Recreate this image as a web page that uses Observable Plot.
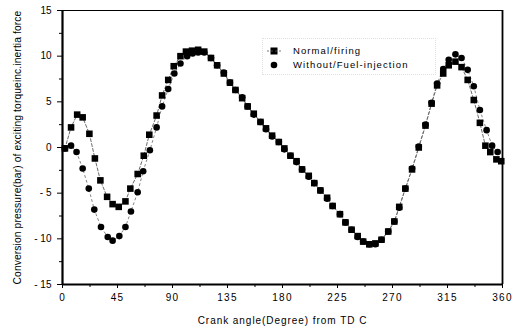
<!DOCTYPE html>
<html>
<head>
<meta charset="utf-8">
<script src="https://cdn.jsdelivr.net/npm/d3@7"></script>
<script src="https://cdn.jsdelivr.net/npm/@observablehq/plot@0.6"></script>
<style>
  html, body { margin: 0; padding: 0; background: #fff; }
  #wrap { position: relative; width: 518px; height: 327px; font-family: "Liberation Sans", Arial, sans-serif; }
  #wrap svg text { fill: #000; }
  .xticks text { letter-spacing: 1.2px; font-size: 10px; }
  .yticks text { font-size: 10px; }
  #legend { position: absolute; left: 262px; top: 38px; width: 172px; height: 35px;
            border: 1px dotted #e0e0e0; font-size: 9.5px; letter-spacing: 1.1px; color: #000; }
  #legend .row { position: absolute; left: 0; height: 12px; line-height: 12px; white-space: nowrap; }
  #legend svg { position: absolute; left: 4px; top: 0; }
  #legend span { position: absolute; left: 30px; top: 0; }
</style>
</head>
<body>
<div id="wrap"></div>
<script>
// ---- data ----
const normalAngle = [2, 7, 12, 16.5, 22, 26.5, 31, 36.5, 41, 46, 51.5, 55.5, 61.5, 66.5, 71, 77, 81.5, 86.5, 91, 96.5, 101, 106, 111, 116, 121.5, 126.5, 132, 137, 141.5, 147, 151.5, 156.5, 162, 166.5, 171.5, 177, 181.5, 186.5, 191.5, 196, 201.5, 206, 211, 216.5, 221, 227, 231.5, 236.5, 241.5, 246, 251, 256, 261, 266.5, 271.5, 275.5, 280.5, 286, 291.5, 297, 302, 306.5, 311.5, 316, 321.5, 326.5, 331.5, 336.5, 341.5, 346, 350, 355, 359];
const normalValue = [-0.1, 2.2, 3.6, 3.3, 1.5, -1.2, -3.6, -5.4, -6.2, -6.5, -5.9, -4.5, -2.9, -0.9, 1.4, 3.5, 5.7, 7.4, 8.9, 10.0, 10.5, 10.6, 10.7, 10.5, 9.8, 9.0, 8.1, 7.1, 6.3, 5.4, 4.5, 3.7, 2.8, 2.1, 1.3, 0.6, -0.1, -0.9, -1.5, -2.4, -3.1, -3.9, -4.7, -5.5, -6.4, -7.3, -8.2, -9.0, -9.7, -10.3, -10.6, -10.5, -10.1, -9.2, -8.1, -6.5, -4.5, -2.4, 0.0, 2.4, 4.8, 6.8, 8.1, 9.0, 9.4, 8.8, 7.4, 5.2, 2.7, 0.2, -0.5, -1.3, -1.5];

const noFuelAngle = [2, 7, 11.5, 16.5, 21.5, 26, 31.5, 37, 41, 46.5, 51.5, 56, 61.5, 66, 71.5, 77, 81.5, 86.5, 91.5, 96.5, 102, 106.5, 111, 116, 121.5, 126.5, 132, 137, 141.5, 147, 151.5, 156.5, 162, 166.5, 171.5, 177, 181.5, 186.5, 191.5, 196, 201.5, 206, 211, 216.5, 221, 227, 231.5, 236.5, 241.5, 246, 251, 256, 261, 266.5, 271.5, 275.5, 280.5, 286, 291.5, 297, 302, 306.5, 311.5, 316, 321.5, 326.5, 331.5, 336.5, 341.5, 347, 351.5, 356];
const noFuelValue = [-0.1, 0.2, -0.5, -2.3, -4.5, -6.8, -8.7, -9.8, -10.2, -9.7, -8.7, -7.0, -4.9, -2.6, -0.3, 2.2, 4.5, 6.4, 8.1, 9.2, 10.0, 10.3, 10.4, 10.4, 9.8, 9.0, 8.2, 7.1, 6.3, 5.5, 4.5, 3.6, 2.8, 2.0, 1.2, 0.6, -0.2, -0.9, -1.6, -2.4, -3.2, -3.9, -4.7, -5.6, -6.4, -7.3, -8.2, -9.0, -9.8, -10.3, -10.6, -10.6, -10.1, -9.2, -8.1, -6.6, -4.5, -2.3, 0.1, 2.5, 4.9, 7.0, 8.6, 9.6, 10.2, 9.8, 8.5, 6.7, 4.1, 1.9, 0.2, -0.5];

const seriesNames = ["Normal/firing", "Without/Fuel-injection"];
const xDomain = [0, 360];
const yDomain = [-15, 15];
const xTicks = [0, 45, 90, 135, 180, 225, 270, 315, 360];
const xMinorTicks = [22.5, 67.5, 112.5, 157.5, 202.5, 247.5, 292.5, 337.5];
const yTicks = [-15, -10, -5, 0, 5, 10, 15];
const yMinorTicks = [-12.5, -7.5, -2.5, 2.5, 7.5, 12.5];
const xLabel = "Crank angle(Degree) from TD C";
const yLabel = "Conversion pressure(bar) of exciting torqueinc.inertia force";

// ---- build ----
const normal = normalAngle.map((a, i) => ({angle: a, value: normalValue[i]}));
const noFuel = noFuelAngle.map((a, i) => ({angle: a, value: noFuelValue[i]}));

const chart = Plot.plot({
  width: 518,
  height: 327,
  marginLeft: 62,
  marginRight: 16,
  marginTop: 10,
  marginBottom: 43,
  style: {fontFamily: "'Liberation Sans', Arial, sans-serif", fontSize: "10px", background: "#fff", color: "#000"},
  x: {domain: xDomain},
  y: {domain: yDomain},
  marks: [
    Plot.frame({stroke: "#000", strokeWidth: 1}),
    Plot.ruleX([xDomain[0]], {stroke: "#000", strokeWidth: 2.2}),
    Plot.ruleX([xDomain[1]], {stroke: "#000", strokeWidth: 1.8}),
    Plot.ruleY([yDomain[0]], {stroke: "#000", strokeWidth: 2.2}),
    Plot.axisX({ticks: xTicks, tickSize: 4, tickPadding: 5, tickFormat: d => String(d),
      label: xLabel, labelAnchor: "center", labelOffset: 39, labelArrow: "none", className: "xticks"}),
    Plot.axisX({ticks: xMinorTicks, tickSize: 3, tickFormat: () => "", label: null}),
    Plot.axisY({ticks: yTicks, tickSize: 5, tickPadding: 6, tickFormat: d => d < 0 ? "- " + Math.abs(d) : String(d),
      label: yLabel, labelAnchor: "center", labelOffset: 49, labelArrow: "none", className: "yticks"}),
    Plot.axisY({ticks: yMinorTicks, tickSize: 3, tickFormat: () => "", label: null}),
    Plot.line(normal, {x: "angle", y: "value", stroke: "#444", strokeWidth: 0.8, strokeDasharray: "3,2"}),
    Plot.line(noFuel, {x: "angle", y: "value", stroke: "#666", strokeWidth: 0.8, strokeDasharray: "2,3"}),
    Plot.dot(normal, {x: "angle", y: "value", symbol: "square", r: 3.7, fill: "#000", stroke: "none"}),
    Plot.dot(noFuel, {x: "angle", y: "value", symbol: "circle", r: 3.3, fill: "#000", stroke: "none"})
  ]
});

const wrap = document.getElementById("wrap");
wrap.appendChild(chart);
chart.querySelectorAll('g[aria-label="y-axis label"]').forEach(el => { el.setAttribute("font-size", "10.3"); el.setAttribute("letter-spacing", "0.1"); });
chart.querySelectorAll('g[aria-label="x-axis label"]').forEach(el => { el.setAttribute("font-size", "10"); el.setAttribute("letter-spacing", "0.95"); });

// legend (HTML overlay)
const legend = document.createElement("div");
legend.id = "legend";
const syms = [
  '<svg width="14" height="12"><rect x="3.5" y="2.5" width="7" height="7" fill="#000"/><line x1="0" y1="6" x2="14" y2="6" stroke="#555" stroke-width="0.8" stroke-dasharray="2,2"/></svg>',
  '<svg width="14" height="12"><circle cx="7" cy="6" r="3.3" fill="#000"/></svg>'
];
seriesNames.forEach((name, i) => {
  const row = document.createElement("div");
  row.className = "row";
  row.style.top = (6 + i * 14) + "px";
  row.style.width = "170px";
  row.innerHTML = syms[i] + "<span>" + name + "</span>";
  legend.appendChild(row);
});
wrap.appendChild(legend);
</script>
</body>
</html>
